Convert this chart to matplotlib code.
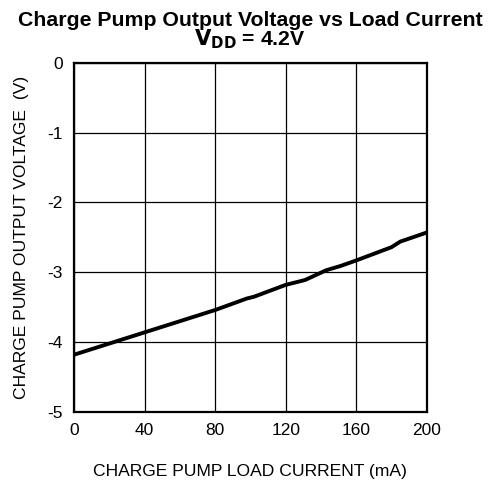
import matplotlib
matplotlib.use("Agg")
import matplotlib.pyplot as plt

plt.rcParams['font.family'] = ['Liberation Sans', 'DejaVu Sans']

load_current = [0, 20, 40, 60, 80, 98, 102, 120, 131, 143, 151, 160, 170, 180, 185, 200]
output_voltage = [-4.18, -4.02, -3.86, -3.70, -3.54, -3.375, -3.35, -3.18, -3.11, -2.97, -2.91,
                  -2.83, -2.735, -2.64, -2.56, -2.43]

x_ticks = [0, 40, 80, 120, 160, 200]
y_ticks = [0, -1, -2, -3, -4, -5]

fig = plt.figure(figsize=(4.9, 4.83), dpi=100)
ax = fig.add_axes([0.151, 0.147, 0.72, 0.723])

ax.plot(load_current, output_voltage, color='black', linewidth=2.8, solid_capstyle='butt')

ax.set_xlim(0, 200)
ax.set_ylim(-5, 0)
ax.set_xticks(x_ticks)
ax.set_yticks(y_ticks)
ax.set_xticklabels([str(t) for t in x_ticks])
ax.set_yticklabels([str(t) for t in y_ticks])
ax.grid(True, color='black', linewidth=0.9)
ax.tick_params(length=0, labelsize=12.5, pad=8)
for s in ax.spines.values():
    s.set_linewidth(1.6)

ax.set_xlabel('CHARGE PUMP LOAD CURRENT (mA)', fontsize=12.6, labelpad=19)
ax.set_ylabel('CHARGE PUMP OUTPUT VOLTAGE  (V)', fontsize=12.6, labelpad=13)

fig.text(0.51, 0.978, 'Charge Pump Output Voltage vs Load Current', ha='center', va='top',
         fontsize=15.3, fontweight='bold')
fig.text(0.51, 0.943, r'$\mathbf{V_{DD}}$ = 4.2V', ha='center', va='top',
         fontsize=15.3, fontweight='bold')

fig.savefig('out.png', dpi=100)
